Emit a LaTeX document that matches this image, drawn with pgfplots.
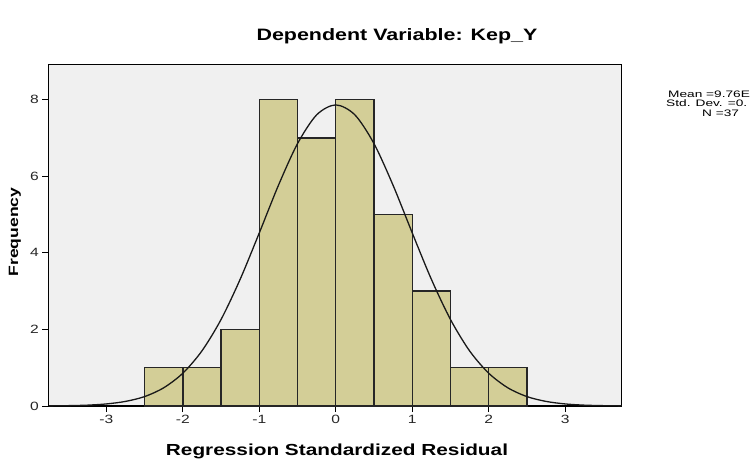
\documentclass[border=0pt]{standalone}
\usepackage{pgfplots}
\pgfplotsset{compat=1.18}
\usetikzlibrary{calc}
\usepackage{fontspec}
\setmainfont{Liberation Sans}[FakeStretch=1.3]
\definecolor{barfill}{HTML}{D3CE97}
\definecolor{plotbg}{HTML}{F0F0F0}

\begin{document}
\begin{tikzpicture}[x=1pt,y=1pt]
\begin{axis}[
  scale only axis, width=573.4pt, height=341.7pt,
  xmin=-3.76, xmax=3.74, ymin=0, ymax=8.92,
  xtick={-3,...,3}, ytick={0,2,4,6,8},
  xtick pos=left, ytick pos=left,
  tick align=outside, major tick length=6pt,
  tick style={black, line width=1pt},
  axis line style={black, line width=1.3pt},
  axis background/.style={fill=plotbg},
  ticklabel style={font=\fontsize{12}{13}\selectfont, text=black!85},
  /pgf/number format/assume math mode=true,
]
% histogram, bin width 0.5
\addplot[ybar interval, fill=barfill, draw=black!85, line width=1.4pt]
  coordinates {(-2.5,1) (-2,1) (-1.5,2) (-1,8) (-0.5,7) (0,8) (0.5,5) (1,3) (1.5,1) (2,1) (2.5,1)};
% normal curve
\addplot[smooth, black!90, line width=1.3pt] coordinates {
  (-3.75,0.003) (-3.5,0.009) (-3.25,0.022) (-3,0.054) (-2.75,0.12) (-2.5,0.246)
  (-2.25,0.476) (-2,0.857) (-1.75,1.44) (-1.5,2.26) (-1.25,3.31) (-1,4.52)
  (-0.75,5.76) (-0.5,6.85) (-0.25,7.6) (0,7.86) (0.25,7.6) (0.5,6.85)
  (0.75,5.76) (1,4.52) (1.25,3.31) (1.5,2.26) (1.75,1.44) (2,0.857)
  (2.25,0.476) (2.5,0.246) (2.75,0.12) (3,0.054) (3.25,0.022) (3.5,0.009) (3.74,0.003)};
\coordinate (SW) at (rel axis cs:0,0);
\end{axis}
\coordinate (O) at ($(SW)+(-48.3,-58)$);
\pgfresetboundingbox
\path[use as bounding box] (O) rectangle ($(O)+(752,464)$);
\node[font=\bfseries\fontsize{16.5}{18}\selectfont] at ($(O)+(397,428)$) {Dependent Variable: Kep\_Y};
\node[font=\bfseries\fontsize{16}{18}\selectfont] at ($(O)+(337,13)$) {Regression Standardized Residual};
\node[font=\bfseries\fontsize{13.5}{15}\selectfont, rotate=90] at ($(O)+(15,232)$) {Frequency};
\node[anchor=west, inner sep=0, font=\fontsize{9.4}{10}\selectfont] at ($(O)+(668,370)$) {\scalebox{1.12}[1]{Mean =9.76E}};
\node[anchor=west, inner sep=0, font=\fontsize{9.4}{10}\selectfont] at ($(O)+(666,360.5)$) {\scalebox{1.12}[1]{Std. Dev. =0.}};
\node[anchor=west, inner sep=0, font=\fontsize{9.4}{10}\selectfont] at ($(O)+(702,351)$) {\scalebox{1.12}[1]{N =37}};
\end{tikzpicture}
\end{document}
